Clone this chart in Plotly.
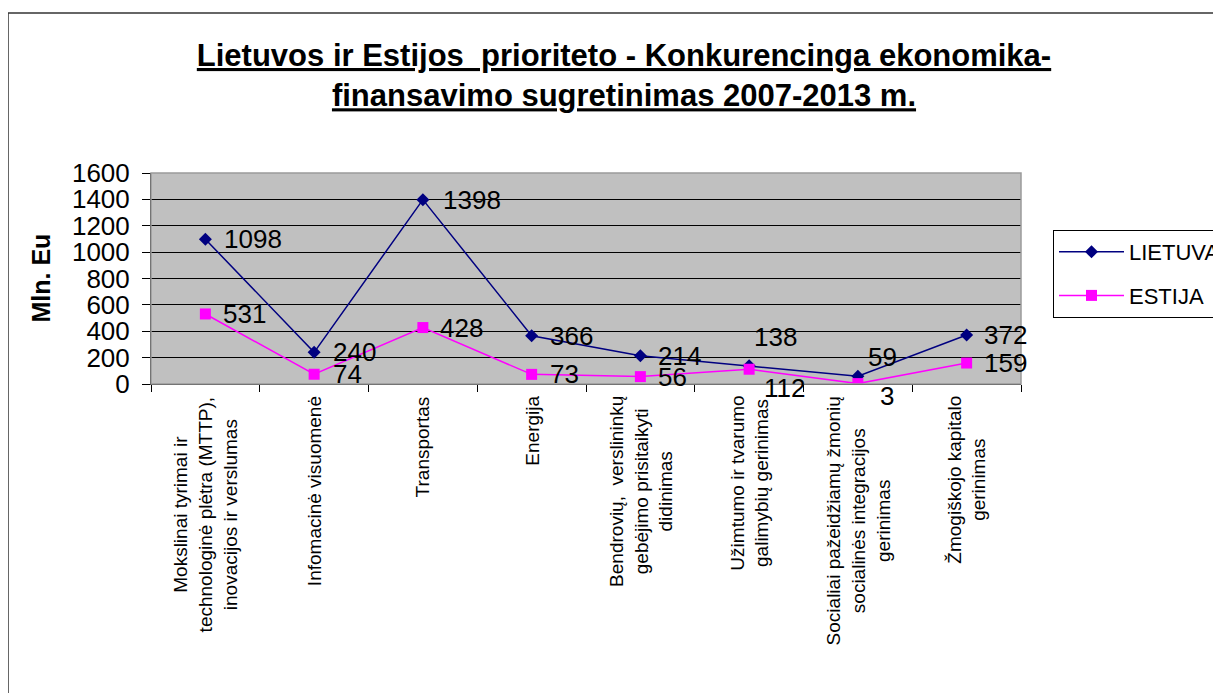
import plotly.graph_objects as go

# categories (x axis labels) and values
categories = [
    "Mokslinai tyrimai ir<br>technologinė plėtra (MTTP),<br>inovacijos ir verslumas",
    "Infomacinė visuomenė",
    "Transportas",
    "Energija",
    "Bendrovių,  verslininkų<br>gebėjimo prisitaikyti<br>didinimas",
    "Užimtumo ir tvarumo<br>galimybių gerinimas",
    "Socialiai pažeidžiamų žmonių<br>socialinės integracijos<br>gerinimas",
    "Žmogiškojo kapitalo<br>gerinimas",
]
lietuva = [1098, 240, 1398, 366, 214, 138, 59, 372]
estija = [531, 74, 428, 73, 56, 112, 3, 159]
y_ticks = [0, 200, 400, 600, 800, 1000, 1200, 1400, 1600]

title_text = ("Lietuvos ir Estijos  prioriteto - Konkurencinga ekonomika-<br>"
              "finansavimo sugretinimas 2007-2013 m.")

FONT = "Arial, Liberation Sans, sans-serif"
W, H = 1221, 693
OFF = 8  # page body margin
# plot area in pixels (screen coords minus page margin)
PL, PR, PT, PB = 151 - OFF, 1021 - OFF, 173 - OFF, 384 - OFF

# data label offsets (px) - Excel nudged a few labels
lt_shift = [(17, 0), (17, 0), (18, 0), (16, 0), (16, 0), (3, 29), (8, 19), (15, 0)]
ee_shift = [(16, 0), (17, 0), (15, 0), (16, 0), (16, 0), (13, -19), (20, -12), (15, 0)]

fig = go.Figure()

fig.add_trace(go.Scatter(
    x=categories, y=lietuva, name="LIETUVA", mode="lines+markers",
    line=dict(color="#000080", width=1.5),
    marker=dict(symbol="diamond", size=10, color="#000080"),
    legendgroup="a",
))
fig.add_trace(go.Scatter(
    x=categories, y=estija, name="ESTIJA", mode="lines+markers",
    line=dict(color="#FF00FF", width=1.5),
    marker=dict(symbol="square", size=11, color="#FF00FF"),
    legendgroup="b",
))

annotations = []
for vals, shifts in ((lietuva, lt_shift), (estija, ee_shift)):
    for c, v, (dx, dy) in zip(categories, vals, shifts):
        annotations.append(dict(
            x=c, y=v, xref="x", yref="y", text=str(v), showarrow=False,
            xanchor="left", yanchor="middle", xshift=dx, yshift=dy,
            font=dict(family=FONT, size=26, color="black"),
        ))

# category labels, rotated, lines centred like Excel
for c in categories:
    annotations.append(dict(
        x=c, y=0, xref="x", yref="paper", text=c, showarrow=False,
        textangle=-90, xanchor="center", yanchor="top", yshift=-10,
        align="center", font=dict(family=FONT, size=19, color="black"),
    ))

pw, ph = PR - PL, PB - PT
def px_x(p):
    return (p - OFF - PL) / pw
def px_y(p):
    return (PB - (p - OFF)) / ph

# y axis title
annotations.append(dict(
    x=px_x(40), y=0.5, xref="paper", yref="paper",
    text="<b>Mln. Eu</b>", showarrow=False, textangle=-90,
    xanchor="center", yanchor="middle",
    font=dict(family=FONT, size=25, color="black"),
))

shapes = [
    # plot area border
    dict(type="rect", xref="paper", yref="paper", x0=0, x1=1, y0=0, y1=1,
         line=dict(color="#9A9A9A", width=1.5), layer="above"),
    # outer chart frame (left and top edges visible)
    dict(type="line", xref="paper", yref="paper", x0=px_x(8), x1=px_x(8),
         y0=px_y(13), y1=px_y(720), line=dict(color="#333333", width=1.5)),
    dict(type="line", xref="paper", yref="paper", x0=px_x(8), x1=px_x(1240),
         y0=px_y(13), y1=px_y(13), line=dict(color="#333333", width=1.5)),
]

fig.update_layout(
    width=W, height=H,
    margin=dict(l=PL, r=W - PR, t=PT, b=H - PB, autoexpand=False),
    paper_bgcolor="white",
    plot_bgcolor="#C0C0C0",
    font=dict(family=FONT, color="black"),
    title=dict(
        text="<b><u>" + title_text + "</u></b>",
        x=(624 - OFF) / W, xref="container", xanchor="center",
        y=1 - (66 - OFF) / H, yref="container", yanchor="top",
        font=dict(family=FONT, size=31, color="black"),
    ),
    xaxis=dict(
        type="category", tickson="boundaries", ticks="outside", ticklen=7,
        tickcolor="black", showticklabels=False, showgrid=False,
        showline=True, linecolor="black", linewidth=1, zeroline=False,
        range=[-0.5, len(categories) - 0.5],
    ),
    yaxis=dict(
        range=[0, 1600], tickvals=y_ticks, ticks="outside", ticklen=8,
        tickcolor="black", showgrid=True, gridcolor="black", gridwidth=1,
        showline=True, linecolor="black", linewidth=1, zeroline=False,
        tickfont=dict(family=FONT, size=26, color="black"),
        ticklabelstandoff=7,
    ),
    legend=dict(
        xref="container", yref="container", x=(1053 - OFF) / W,
        y=1 - (230 - OFF) / H,
        xanchor="left", yanchor="top", bgcolor="white",
        bordercolor="black", borderwidth=1,
        font=dict(family=FONT, size=22, color="black"),
        tracegroupgap=12, itemwidth=65,
    ),
    annotations=annotations,
    shapes=shapes,
)

fig.write_html("out.html")
